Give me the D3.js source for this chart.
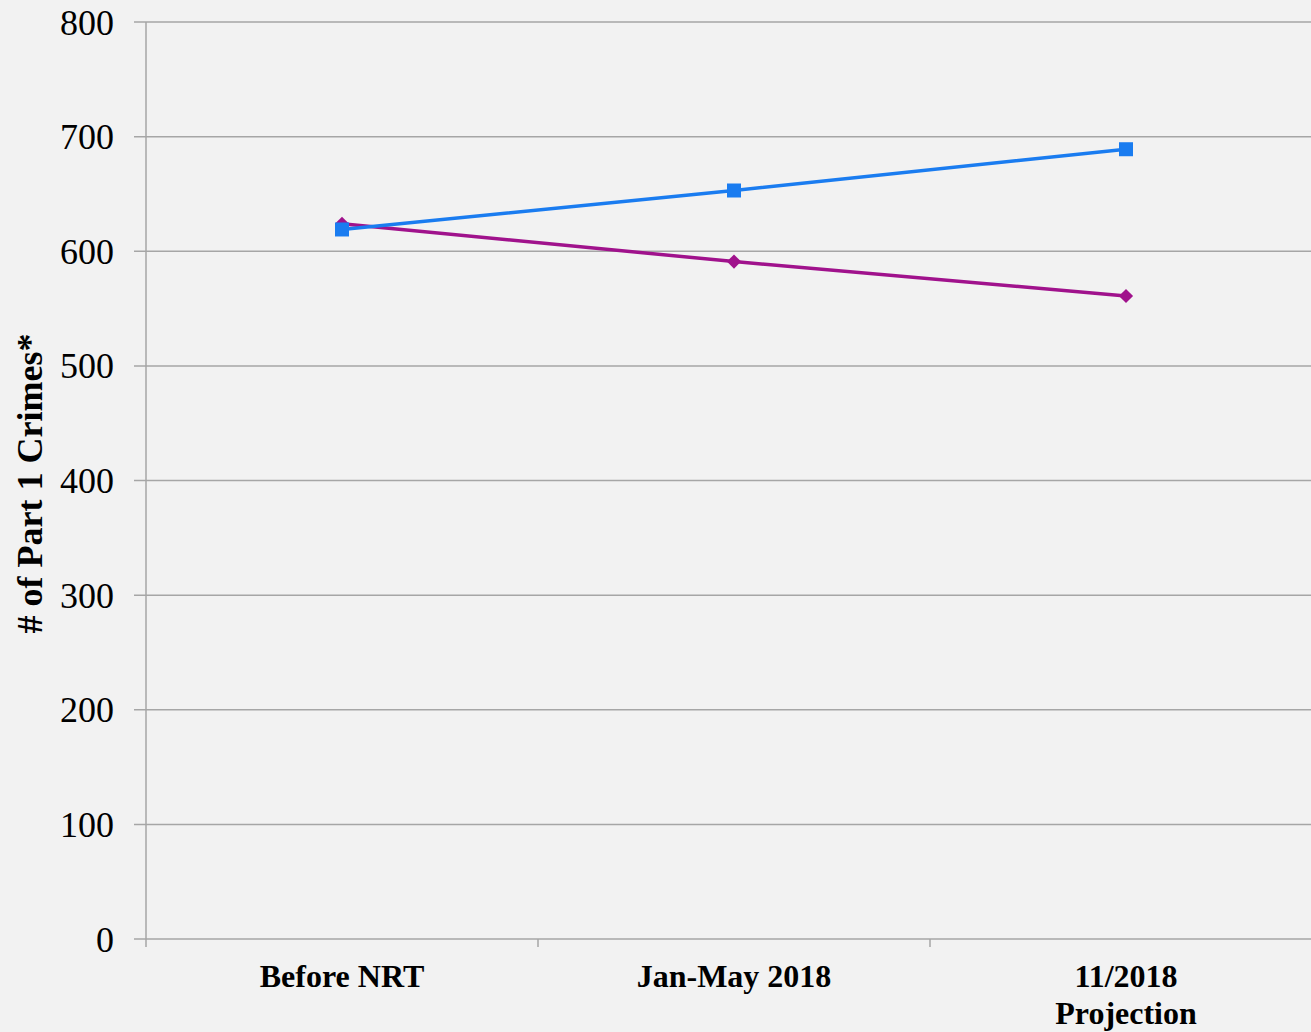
<!DOCTYPE html>
<html lang="en">
<head>
  <meta charset="UTF-8">
  <title>Part 1 Crimes</title>
  <script src="https://d3js.org/d3.v7.min.js"></script>
  <style>
    body { margin: 0; background: #f2f2f2; }
    svg { display: block; }
  </style>
</head>
<body>
  <svg width="1311" height="1032"></svg>
  <script>
    // data
    const categories = ["Before NRT", "Jan-May 2018", "11/2018\nProjection"];
    const purpleSeries = [624, 591, 561];
    const blueSeries = [619, 653, 689];
    const yTicks = [0, 100, 200, 300, 400, 500, 600, 700, 800];

    const svg = d3.select("svg");
    const margin = { left: 146, top: 22, bottom: 93 };
    const width = 1311, height = 1032;
    const plotRight = 1322; // last band ends just past the window

    svg.append("rect").attr("width", width).attr("height", height).attr("fill", "#f2f2f2");

    const x = d3.scaleBand()
      .domain(categories)
      .range([margin.left, plotRight])
      .paddingInner(0).paddingOuter(0);

    const y = d3.scaleLinear()
      .domain([0, 800])
      .range([height - margin.bottom, margin.top]);

    const grid = "#a6a6a6";

    // horizontal gridlines
    svg.append("g")
      .selectAll("line")
      .data(yTicks)
      .join("line")
      .attr("x1", margin.left - 12)
      .attr("x2", width)
      .attr("y1", d => y(d))
      .attr("y2", d => y(d))
      .attr("stroke", grid)
      .attr("stroke-width", 1.5);

    // y axis line
    svg.append("line")
      .attr("x1", margin.left).attr("x2", margin.left)
      .attr("y1", y(800)).attr("y2", y(0) + 8)
      .attr("stroke", grid).attr("stroke-width", 1.5);

    // x ticks at band boundaries
    svg.append("g")
      .selectAll("line")
      .data(categories)
      .join("line")
      .attr("x1", d => x(d) + x.bandwidth())
      .attr("x2", d => x(d) + x.bandwidth())
      .attr("y1", y(0))
      .attr("y2", y(0) + 8)
      .attr("stroke", grid).attr("stroke-width", 1.5);

    // y tick labels
    svg.append("g")
      .selectAll("text")
      .data(yTicks)
      .join("text")
      .attr("x", 114)
      .attr("y", d => y(d))
      .attr("dy", "0.35em")
      .attr("text-anchor", "end")
      .style("font-family", "'Liberation Serif', 'Times New Roman', serif")
      .style("font-size", "36px")
      .attr("fill", "#000")
      .text(d => d);

    // x labels
    const xl = svg.append("g")
      .selectAll("text")
      .data(categories)
      .join("text")
      .attr("text-anchor", "middle")
      .style("font-family", "'Liberation Serif', 'Times New Roman', serif")
      .style("font-size", "32px")
      .style("font-weight", "bold")
      .attr("fill", "#000");
    xl.each(function(d) {
      const lines = d.split("\n");
      d3.select(this).selectAll("tspan")
        .data(lines)
        .join("tspan")
        .attr("x", x(d) + x.bandwidth() / 2)
        .attr("y", (l, i) => 987 + i * 37)
        .text(l => l);
    });

    // y axis title
    svg.append("text")
      .attr("transform", `translate(42, ${(y(0) + y(800)) / 2 + 3}) rotate(-90)`)
      .attr("text-anchor", "middle")
      .style("font-family", "'Liberation Serif', 'Times New Roman', serif")
      .style("font-size", "36px")
      .style("font-weight", "bold")
      .attr("fill", "#000")
      .text("# of Part 1 Crimes*");

    const cx = d => x(d) + x.bandwidth() / 2;
    const line = d3.line().x(d => cx(d.c)).y(d => y(d.v));

    const purple = "#a0128c", blue = "#1a7cf0";
    const purpleData = categories.map((c, i) => ({ c, v: purpleSeries[i] }));
    const blueData = categories.map((c, i) => ({ c, v: blueSeries[i] }));

    svg.append("path").datum(purpleData)
      .attr("d", line).attr("fill", "none")
      .attr("stroke", purple).attr("stroke-width", 3.5);

    // diamonds: squares turned 45 degrees
    svg.append("g").selectAll("rect")
      .data(purpleData)
      .join("rect")
      .attr("x", -5).attr("y", -5)
      .attr("width", 10).attr("height", 10)
      .attr("transform", d => `translate(${cx(d.c)},${y(d.v)}) rotate(45)`)
      .attr("fill", purple);

    svg.append("path").datum(blueData)
      .attr("d", line).attr("fill", "none")
      .attr("stroke", blue).attr("stroke-width", 3.5);

    svg.append("g").selectAll("rect")
      .data(blueData)
      .join("rect")
      .attr("x", d => cx(d.c) - 7)
      .attr("y", d => y(d.v) - 7)
      .attr("width", 14).attr("height", 14)
      .attr("fill", blue);
  </script>
</body>
</html>
